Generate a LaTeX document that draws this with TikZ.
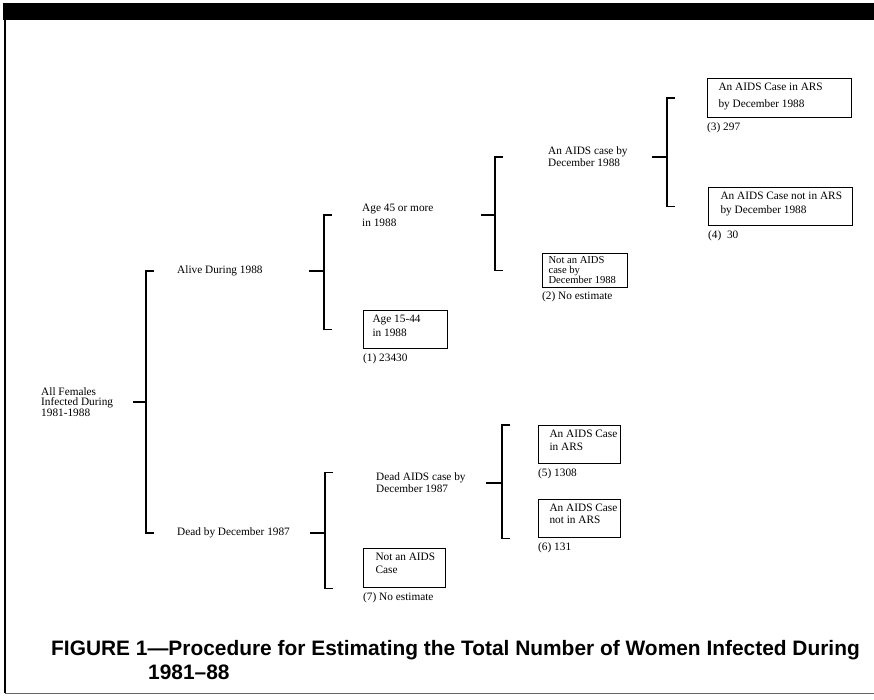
\documentclass[tikz,border=0pt]{standalone}
\usepackage{fontspec}
\setmainfont{Liberation Serif}
\newfontfamily\capfont{Liberation Sans}
\usetikzlibrary{positioning}
\newcommand{\lsp}[1]{\fontsize{11.3}{#1}\selectfont}
% boxed text: [top gap]{width}{height}{indent}{text}
\newcommand{\cell}[5][4]{\parbox[t][#3pt][t]{#2pt}{\raggedright\leftskip=#4pt\relax\vspace*{#1pt}#5}}
% bracket: tick start, spine, parent, upper child, lower child
\newcommand{\fork}[5]{\draw[fork] (#1,0 |- #3) -- (#2,0 |- #3)
  (#2,0 |- #4) ++(8,0) -- (#2,0 |- #4) -- (#2,0 |- #5) -- ++(8,0);}

\begin{document}
\begin{tikzpicture}[x=1pt, y=-1pt,
  fork/.style={line width=1.1pt},
  txt/.style={font=\lsp{13}, align=left, inner sep=0, anchor=west},
  box/.style={draw, line width=1.1pt, inner sep=0, anchor=north west},
  note/.style={font=\lsp{13}, inner sep=0, anchor=base west}]
  \useasboundingbox (0,0) rectangle (874,700);
  % frame
  \fill (3,3) rectangle (874,20);
  \draw[line width=2pt] (5,20) -- (5,693);
  \draw[line width=.8pt, black!60] (5,693) -- (874,693);
  % branch labels
  \node[txt, font=\lsp{10.8}] (root) at (41,402) {All Females\\Infected During\\1981-1988};
  \node[txt] (alive) at (177,271) {Alive During 1988};
  \node[txt] (dead) at (177,533) {Dead by December 1987};
  \node[txt, font=\lsp{15}] (age45) at (362,215) {Age 45 or more\\in 1988};
  \node[txt, font=\lsp{12}] (aids88) at (548,157) {An AIDS case by\\December 1988};
  \node[txt, font=\lsp{12}] (aids87) at (376,483) {Dead AIDS case by\\December 1987};
  % end boxes
  \node[box, font=\lsp{14}] (b1) at (363,310) {\cell{84}{38}{9}{Age 15-44\\in 1988}};
  \node[box, font=\fontsize{10.6}{10.4}\selectfont] (b2) at (542,253) {\cell[2.5]{85}{34}{6}{Not an AIDS\\case by\\December 1988}};
  \node[box, font=\lsp{17}] (b3) at (707,78) {\cell{144}{39}{11}{An AIDS Case in ARS\\by December 1988}};
  \node[box, font=\lsp{14}] (b4) at (708,187) {\cell{144}{38}{12}{An AIDS Case not in ARS\\by December 1988}};
  \node[box, font=\lsp{13}] (b5) at (538,425) {\cell{82}{38}{11}{An AIDS Case\\in ARS}};
  \node[box, font=\lsp{12}] (b6) at (538,499) {\cell{82}{38}{11}{An AIDS Case\\not in ARS}};
  \node[box, font=\lsp{13}] (b7) at (363,548) {\cell{82}{39}{12}{Not an AIDS\\Case}};
  % counts
  \node[note] (n1) at ([yshift=-12.5pt]b1.south west) {(1) 23430};
  \node[note] (n2) at ([yshift=-11pt]b2.south west) {(2) No estimate};
  \node[note] (n3) at ([yshift=-12.5pt]b3.south west) {(3) 297};
  \node[note] (n4) at ([yshift=-12.5pt]b4.south west) {(4)~ 30};
  \node[note] (n5) at ([yshift=-12.5pt]b5.south west) {(5) 1308};
  \node[note] (n6) at ([yshift=-12.5pt]b6.south west) {(6) 131};
  \node[note] (n7) at ([yshift=-12.5pt]b7.south west) {(7) No estimate};
  % brackets
  \fork{133}{146}{root.west}{alive.west}{dead.west}
  \fork{309}{324}{alive.west}{age45.west}{b1.west}
  \fork{481}{495}{age45.west}{aids88.west}{b2.west}
  \fork{652}{667}{aids88.west}{b3.west}{b4.west}
  \fork{310}{325}{dead.west}{aids87.north}{b7.south}
  \fork{486}{502}{aids87.west}{b5.north}{b6.south}
  % caption
  \node[font=\capfont\bfseries\fontsize{20.9}{24}\selectfont, align=left, inner sep=0,
    anchor=north west] (cap) at (51,640)
    {FIGURE 1—Procedure for Estimating the Total Number of Women Infected During\\\hspace*{97pt}1981–88};
\end{tikzpicture}
\end{document}
